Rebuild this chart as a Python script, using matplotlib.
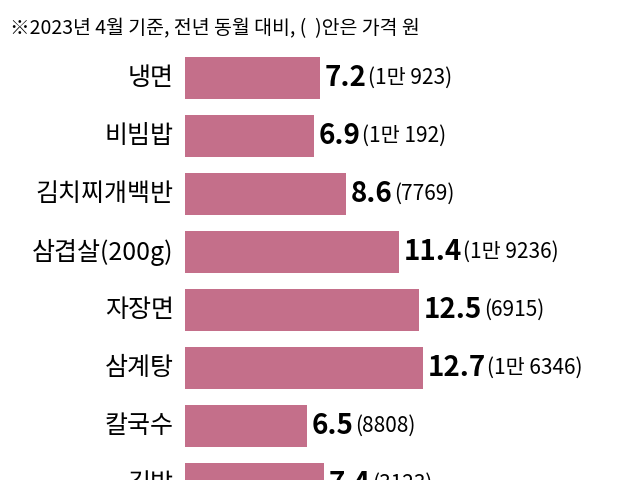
import matplotlib.pyplot as plt

plt.rcParams["font.family"] = "Noto Sans CJK KR"

foods = ["냉면", "비빔밥", "김치찌개백반", "삼겹살(200g)", "자장면", "삼계탕", "칼국수", "김밥"]
rates = [7.2, 6.9, 8.6, 11.4, 12.5, 12.7, 6.5, 7.4]
prices = ["(1만 923)", "(1만 192)", "(7769)", "(1만 9236)", "(6915)", "(1만 6346)", "(8808)", "(3123)"]

fig = plt.figure(figsize=(6.4, 4.8), dpi=100)
ax = fig.add_axes([0, 0, 1, 1])
ax.set_xlim(-185 / 18.75, 455 / 18.75)
ax.set_ylim(402 / 58, -78 / 58)
ax.axis("off")

y = list(range(len(foods)))
ax.barh(y, rates, height=0.74, color="#c46f8a", left=0)

for i in y:
    ax.text(-0.6, i, foods[i], ha="right", va="center", fontsize=18)
    t = ax.text(rates[i] + 0.25, i, f"{rates[i]:.1f}", ha="left", va="center",
                fontsize=20, fontweight="bold")
    ax.annotate(prices[i], xy=(1, 0.5), xycoords=t, xytext=(1, 0),
                textcoords="offset points", ha="left", va="center", fontsize=15)

fig.text(0.015, 0.94, "※2023년 4월 기준, 전년 동월 대비, (  )안은 가격 원",
         fontsize=14, ha="left", va="center")
fig.savefig("out.png", dpi=100)
